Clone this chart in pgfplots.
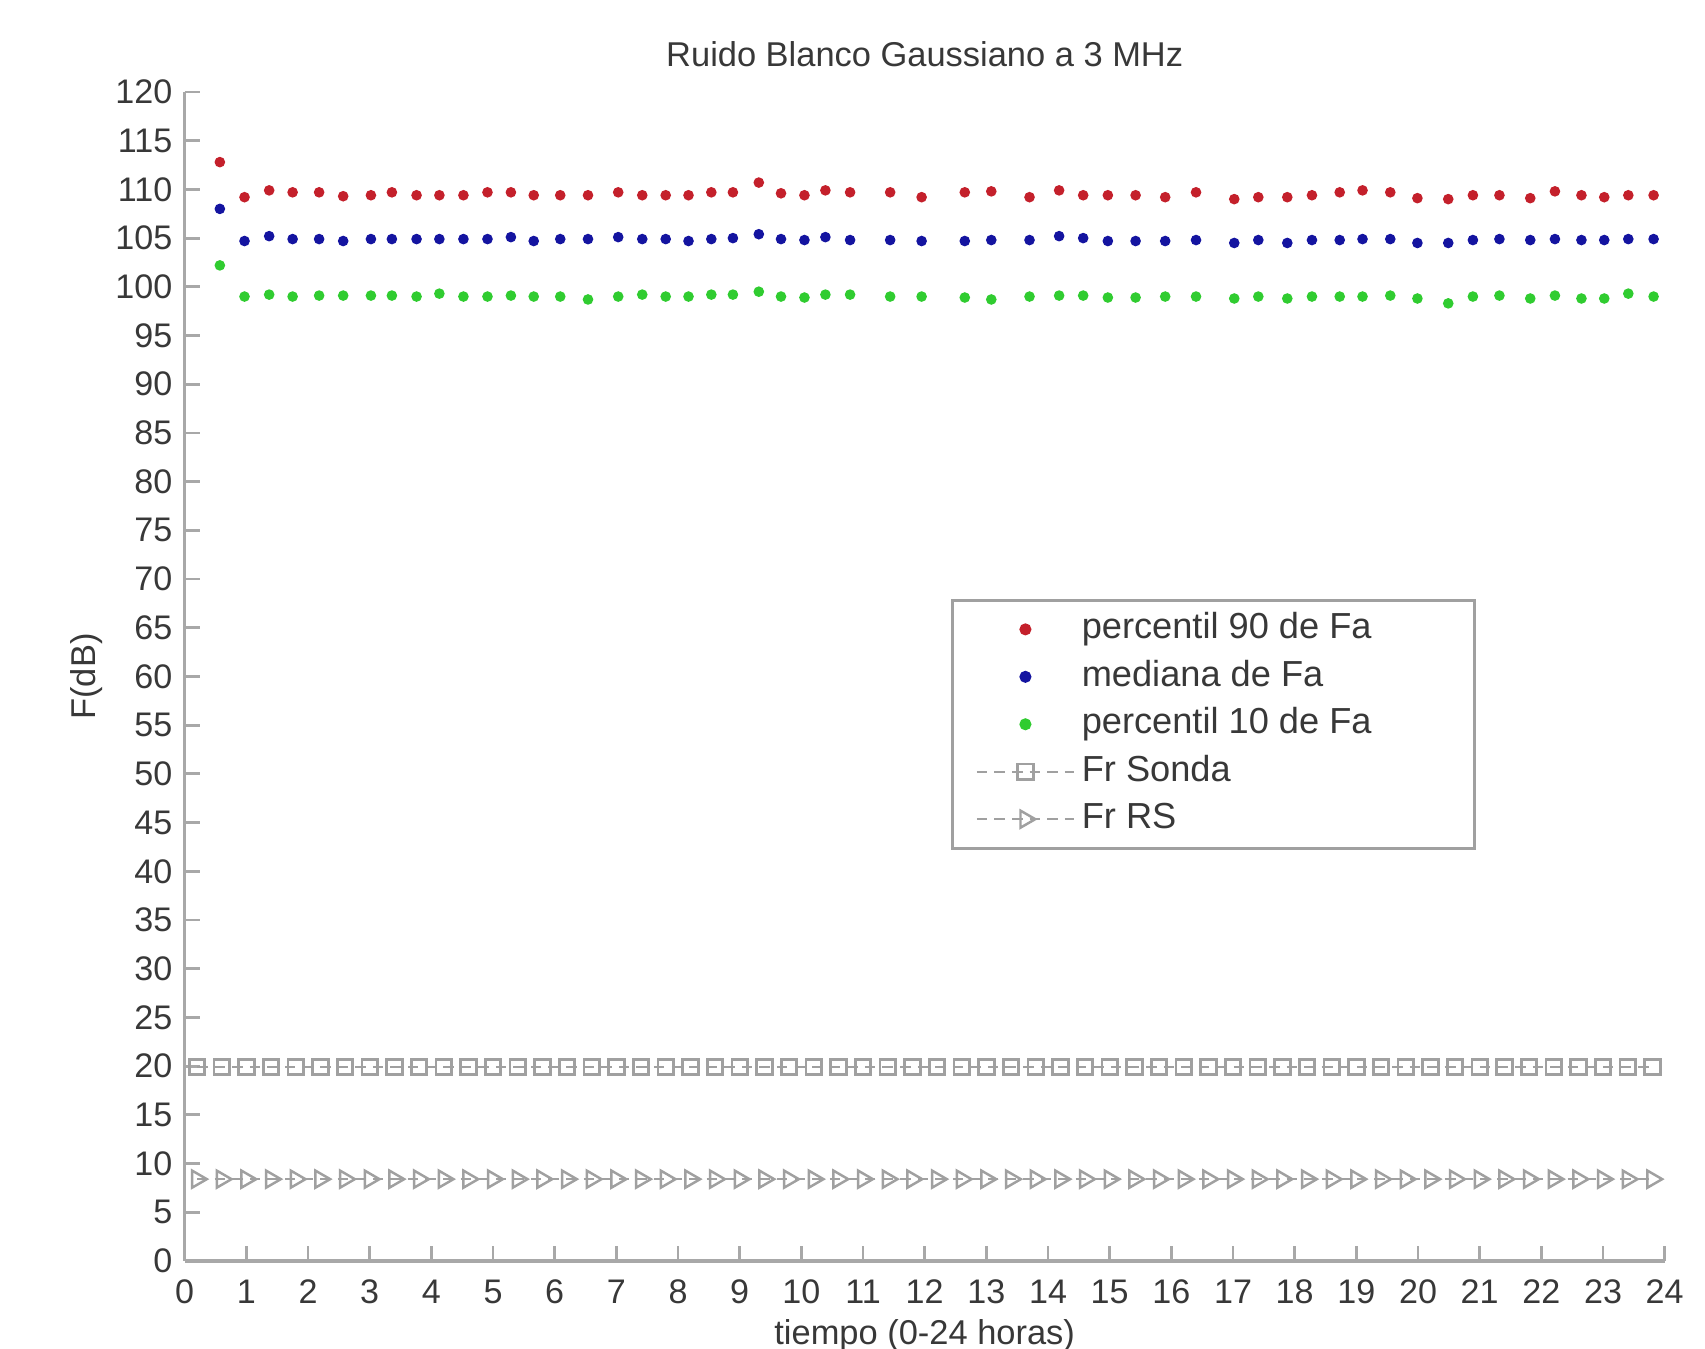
\documentclass[border=0pt]{standalone}
\usepackage{fontspec}
\setmainfont{Liberation Sans}
\usepackage{pgfplots}
\usepackage{pgfplotstable}
\pgfplotsset{compat=1.18}
\definecolor{pnoventa}{HTML}{C4202B}
\definecolor{pmediana}{HTML}{1414A0}
\definecolor{pdiez}{HTML}{30CC30}
\definecolor{frgris}{HTML}{A0A0A0}
\definecolor{ejegris}{HTML}{A8A8A8}
\definecolor{textgris}{HTML}{383838}

% percentiles de Fa (dB) frente a la hora
\pgfplotstableread{
t     p90    med    p10
0.57  112.8  108.0  102.2
0.97  109.2  104.7  99.0
1.37  109.9  105.2  99.2
1.75  109.7  104.9  99.0
2.18  109.7  104.9  99.1
2.57  109.3  104.7  99.1
3.02  109.4  104.9  99.1
3.36  109.7  104.9  99.1
3.76  109.4  104.9  99.0
4.13  109.4  104.9  99.3
4.52  109.4  104.9  99.0
4.91  109.7  104.9  99.0
5.29  109.7  105.1  99.1
5.66  109.4  104.7  99.0
6.09  109.4  104.9  99.0
6.54  109.4  104.9  98.7
7.03  109.7  105.1  99.0
7.42  109.4  104.9  99.2
7.80  109.4  104.9  99.0
8.17  109.4  104.7  99.0
8.54  109.7  104.9  99.2
8.89  109.7  105.0  99.2
9.31  110.7  105.4  99.5
9.67  109.6  104.9  99.0
10.05 109.4  104.8  98.9
10.39 109.9  105.1  99.2
10.79 109.7  104.8  99.2
11.44 109.7  104.8  99.0
11.95 109.2  104.7  99.0
12.65 109.7  104.7  98.9
13.08 109.8  104.8  98.7
13.70 109.2  104.8  99.0
14.18 109.9  105.2  99.1
14.57 109.4  105.0  99.1
14.97 109.4  104.7  98.9
15.42 109.4  104.7  98.9
15.90 109.2  104.7  99.0
16.40 109.7  104.8  99.0
17.02 109.0  104.5  98.8
17.41 109.2  104.8  99.0
17.88 109.2  104.5  98.8
18.28 109.4  104.8  99.0
18.73 109.7  104.8  99.0
19.10 109.9  104.9  99.0
19.55 109.7  104.9  99.1
19.99 109.1  104.5  98.8
20.49 109.0  104.5  98.3
20.89 109.4  104.8  99.0
21.32 109.4  104.9  99.1
21.82 109.1  104.8  98.8
22.22 109.8  104.9  99.1
22.65 109.4  104.8  98.8
23.02 109.2  104.8  98.8
23.41 109.4  104.9  99.3
23.82 109.4  104.9  99.0
}\fa

% ruido de referencia Fr (dB)
\pgfplotstableread{
t     sonda  rs
0.2   19.9   8.4
0.6   19.9   8.4
1.0   19.9   8.4
1.4   19.9   8.4
1.8   19.9   8.4
2.2   19.9   8.4
2.6   19.9   8.4
3.0   19.9   8.4
3.4   19.9   8.4
3.8   19.9   8.4
4.2   19.9   8.4
4.6   19.9   8.4
5.0   19.9   8.4
5.4   19.9   8.4
5.8   19.9   8.4
6.2   19.9   8.4
6.6   19.9   8.4
7.0   19.9   8.4
7.4   19.9   8.4
7.8   19.9   8.4
8.2   19.9   8.4
8.6   19.9   8.4
9.0   19.9   8.4
9.4   19.9   8.4
9.8   19.9   8.4
10.2  19.9   8.4
10.6  19.9   8.4
11.0  19.9   8.4
11.4  19.9   8.4
11.8  19.9   8.4
12.2  19.9   8.4
12.6  19.9   8.4
13.0  19.9   8.4
13.4  19.9   8.4
13.8  19.9   8.4
14.2  19.9   8.4
14.6  19.9   8.4
15.0  19.9   8.4
15.4  19.9   8.4
15.8  19.9   8.4
16.2  19.9   8.4
16.6  19.9   8.4
17.0  19.9   8.4
17.4  19.9   8.4
17.8  19.9   8.4
18.2  19.9   8.4
18.6  19.9   8.4
19.0  19.9   8.4
19.4  19.9   8.4
19.8  19.9   8.4
20.2  19.9   8.4
20.6  19.9   8.4
21.0  19.9   8.4
21.4  19.9   8.4
21.8  19.9   8.4
22.2  19.9   8.4
22.6  19.9   8.4
23.0  19.9   8.4
23.4  19.9   8.4
23.8  19.9   8.4
}\fr

\begin{document}
\begin{tikzpicture}
\useasboundingbox (-1.847,-0.88) rectangle (15.203,12.61);
\begin{axis}[
  scale only axis, width=14.8cm, height=11.69cm,
  xmin=0, xmax=24, ymin=0, ymax=120,
  enlargelimits=false, clip=false,
  axis x line*=bottom, axis y line*=left,
  axis line style={ejegris, line width=0.9pt},
  xtick={0,1,...,24}, ytick={0,5,...,120},
  tick align=inside, major tick length=0.15cm,
  tick style={ejegris, line width=0.8pt},
  /pgf/number format/assume math mode=true,
  tick label style={font=\fontsize{9.7}{11}\selectfont, text=textgris},
  xticklabel style={yshift=-1.8pt},
  title={Ruido Blanco Gaussiano a 3 MHz},
  title style={at={(0.5,1)}, anchor=base, yshift=0.04cm, text=textgris, font=\fontsize{9.8}{11}\selectfont},
  xlabel={tiempo (0-24 horas)},
  xlabel style={at={(axis description cs:0.5,0)}, anchor=base, yshift=-0.835cm, text=textgris, font=\fontsize{9.8}{11}\selectfont},
  ylabel={F(dB)},
  ylabel style={at={(axis description cs:-0.066,0.5)}, anchor=center, text=textgris, font=\fontsize{9.8}{11}\selectfont},
  legend style={at={(0.5176,0.5663)}, anchor=north west, draw=frgris, line width=0.8pt,
    inner xsep=6.8pt, inner ysep=1.5pt, row sep=0pt,
    font=\fontsize{10.3}{12}\selectfont, text=textgris,
    nodes={inner ysep=2pt, text height=7.4pt, text depth=2.1pt}},
  legend cell align=left,
  legend image code/.code={\draw[mark repeat=2,mark phase=2,#1] plot coordinates {(0cm,0cm) (0.485cm,0cm) (0.97cm,0cm)};},
]
\addplot[only marks, mark=*, mark size=1.3pt, color=pnoventa] table[x=t,y=p90]{\fa};
\addlegendentry{\makebox[3.62cm][l]{percentil 90 de Fa}}
\addplot[only marks, mark=*, mark size=1.3pt, color=pmediana] table[x=t,y=med]{\fa};
\addlegendentry{mediana de Fa}
\addplot[only marks, mark=*, mark size=1.3pt, color=pdiez] table[x=t,y=p10]{\fa};
\addlegendentry{percentil 10 de Fa}
\addplot[color=frgris, line width=0.5pt, dash pattern=on 3pt off 2pt, mark=square, mark size=2.2pt,
  mark options={solid, line width=0.8pt}] table[x=t,y=sonda]{\fr};
\addlegendentry{Fr Sonda}
\addplot[color=frgris, line width=0.5pt, dash pattern=on 3pt off 2pt, mark=triangle, mark size=2.8pt,
  mark options={solid, rotate=-90, line width=0.7pt}] table[x=t,y=rs]{\fr};
\addlegendentry{Fr RS}
\end{axis}
\end{tikzpicture}
\end{document}
